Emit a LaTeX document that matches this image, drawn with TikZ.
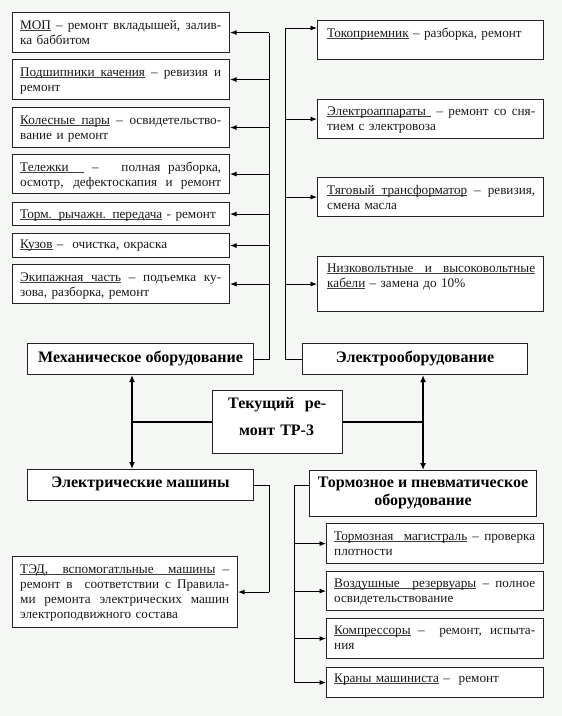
\documentclass[tikz,border=0pt]{standalone}
\usepackage{fontspec}
\setmainfont{Liberation Serif}
\usetikzlibrary{arrows.meta,calc}
\definecolor{bg}{RGB}{244,247,244}
\definecolor{ln}{RGB}{35,35,35}
\definecolor{ulc}{RGB}{70,60,55}
\newcommand{\jl}[2]{\makebox[#1][s]{\spaceskip=0pt\xspaceskip=0pt #2}}
\newcommand{\myul}[1]{\leavevmode\setbox0\hbox{#1}\rlap{\textcolor{ulc}{\rule[-1.8pt]{\wd0}{0.6pt}}}\box0\relax}
\newcommand{\ulsp}{{\color{ulc}\leaders\hrule height -1.2pt depth 1.8pt\hskip\fontdimen2\font plus\fontdimen3\font minus\fontdimen4\font\relax}}
\newcommand{\bx}[5]{\node[box,minimum width={(#4-#2)*1pt},minimum height={(#5-#3)*1pt}] (#1) at (#2,#3) {};}
\tikzset{
  box/.style={draw=ln, line width=1.1pt, fill=white, inner sep=0pt, anchor=north west},
  txt/.style={inner sep=0pt, anchor=base west, align=left, text=black!90, font=\fontsize{13.2}{15}\selectfont},
  ttl/.style={inner sep=0pt, align=center, font=\bfseries\fontsize{16}{18}\selectfont},
  arr/.style={-{Latex[length=6.5pt,width=5pt]}, line width=0.8pt, draw=black},
  lnk/.style={line width=0.8pt, draw=black},
  darr/.style={{Latex[length=7pt,width=6pt]}-{Latex[length=7pt,width=6pt]}, line width=1.6pt},
  thk/.style={line width=1.6pt}
}
\begin{document}
\begin{tikzpicture}[x=1pt,y=-1pt]
\fill[bg] (0,0) rectangle (562,716);
\useasboundingbox (0,0) rectangle (562,716);

% ---------- left column ----------
\bx{mop}{12}{12}{229}{52}
\node[txt,text width=201pt] (tmop) at (20,29) {\jl{201pt}{\myul{МОП} – ремонт вкладышей, залив-}\\ка баббитом};
\bx{pod}{12}{59}{229}{99}
\node[txt,text width=201pt] (tpod) at (20,76) {\jl{201pt}{\myul{Подшипники}\ulsp\myul{качения} – ревизия и}\\ремонт};
\bx{kol}{12}{107}{229}{147}
\node[txt,text width=201pt] (tkol) at (20,124) {\jl{201pt}{\myul{Колесные}\ulsp\myul{пары} – освидетельство-}\\вание и ремонт};
\bx{tel}{12}{154}{229}{193}
\node[txt,text width=201pt] (ttel) at (20,171) {\jl{201pt}{\myul{Тележки}\ulsp\ulsp\ – \ \ полная разборка,}\\\jl{201pt}{осмотр, дефектоскапия и ремонт}};
\bx{trm}{12}{202}{229}{225}
\node[txt,text width=201pt] (ttrm) at (20,218) {\myul{Торм. рычажн. передача} - ремонт};
\bx{kuz}{12}{233}{229}{257}
\node[txt,text width=201pt] (tkuz) at (20,248) {\myul{Кузов} –\ \ очистка, окраска};
\bx{ekp}{12}{264}{229}{303}
\node[txt,text width=201pt] (tekp) at (20,281) {\jl{201pt}{\myul{Экипажная}\ulsp\myul{часть} – подъемка ку-}\\зова, разборка, ремонт};

\bx{mech}{27}{343}{253}{374}
\node[ttl] (tmech) at ([yshift=1pt]mech.center) {Механическое оборудование};

% ---------- right column ----------
\bx{tok}{317}{20}{543}{59}
\node[txt,text width=208pt] (ttok) at (327,37) {\myul{Токоприемник} – разборка, ремонт};
\bx{eap}{317}{99}{543}{138}
\node[txt,text width=208pt] (teap) at (327,115) {\jl{208pt}{\myul{Электроаппараты}\ulsp\ – ремонт со сня-}\\тием с электровоза};
\bx{tyg}{317}{177}{543}{216}
\node[txt,text width=208pt] (ttyg) at (327,194) {\jl{208pt}{\myul{Тяговый}\ulsp\myul{трансформатор} – ревизия,}\\смена масла};
\bx{nzk}{317}{256}{543}{311}
\node[txt,text width=208pt] (tnzk) at (327,272) {\jl{208pt}{\myul{Низковольтные}\ulsp\ulsp\myul{и}\ulsp\ulsp\myul{высоковольтные}}\\\myul{кабели} – замена до 10\%};

\bx{elo}{302}{343}{527}{374}
\node[ttl] (telo) at ([yshift=1pt]elo.center) {Электрооборудование};

% ---------- centre ----------
\bx{tek}{212}{390}{342}{453}
\node[ttl,text width=98pt,align=left,font=\bfseries\fontsize{16}{27}\selectfont,anchor=base west] (ttek) at (228,408) {\jl{98pt}{Текущий\ \ ре-}\\\hspace*{11pt}монт ТР-3};

\bx{elm}{27}{469}{253}{500}
\node[ttl] (telm) at ([yshift=1pt]elm.center) {Электрические машины};
\bx{tor}{309}{470}{536}{516}
\node[ttl] (ttor) at ([yshift=1pt]tor.center) {Тормозное и пневматическое\\оборудование};

% ---------- bottom left ----------
\bx{ted}{12}{556}{237}{627}
\node[txt,text width=209pt] (tted) at (20,573) {\jl{209pt}{\myul{ТЭД,}\ulsp\ulsp\myul{вспомогатльные}\ulsp\ulsp\myul{машины} –}\\\jl{209pt}{ремонт в\ \ соответствии с Правила-}\\\jl{209pt}{ми ремонта электрических машин}\\электроподвижного состава};

% ---------- bottom right ----------
\bx{tm}{326}{523}{543}{563}
\node[txt,text width=201pt] (ttm) at (334,540) {\jl{201pt}{\myul{Тормозная}\ulsp\ulsp\myul{магистраль} – проверка}\\плотности};
\bx{vr}{326}{571}{543}{610}
\node[txt,text width=201pt] (tvr) at (334,587) {\jl{201pt}{\myul{Воздушные}\ulsp\ulsp\myul{резервуары} – полное}\\освидетельствование};
\bx{kmp}{326}{618}{543}{658}
\node[txt,text width=201pt] (tkmp) at (334,634) {\jl{201pt}{\myul{Компрессоры} –\ \ ремонт, испыта-}\\ния};
\bx{krn}{326}{667}{543}{697}
\node[txt,text width=201pt] (tkrn) at (334,682) {\myul{Краны машиниста} –\ \ ремонт};

% ---------- connectors: left trunk ----------
\coordinate (LT) at (269,0);
\draw[lnk] (mech.east) -| (LT |- mop.east);
\foreach \b in {mop,pod,kol,tel,trm,kuz,ekp}
  \draw[arr] (LT |- \b.east) -- (\b.east);

% ---------- connectors: right trunk ----------
\coordinate (RT) at (285,0);
\coordinate (tokA) at ([yshift=-8pt]tok.north west);
\draw[lnk] (elo.west) -| (RT |- tokA);
\draw[arr] (RT |- tokA) -- (tokA);
\foreach \b in {eap,tyg,nzk}
  \draw[arr] (RT |- \b.west) -- (\b.west);

% ---------- centre connectors ----------
\coordinate (CL) at (132,0);
\coordinate (CR) at (tor.north);
\draw[thk] (tek.west) -- (CL |- tek.west);
\draw[thk] (tek.east) -- (CR |- tek.east);
\draw[darr] (CL |- mech.south) -- (CL |- elm.north);
\draw[darr] (CR |- elo.south) -- (tor.north);

% ---------- bottom left connector ----------
\coordinate (BL) at (269,0);
\draw[lnk] (elm.east) -| (BL |- ted.east);
\draw[arr] (BL |- ted.east) -- (ted.east);

% ---------- bottom right connectors ----------
\coordinate (BR) at (294,0);
\coordinate (torA) at ([yshift=8pt]tor.west);
\draw[lnk] (torA) -| (BR |- krn.west);
\foreach \b in {tm,vr,kmp,krn}
  \draw[arr] (BR |- \b.west) -- (\b.west);
\end{tikzpicture}
\end{document}
